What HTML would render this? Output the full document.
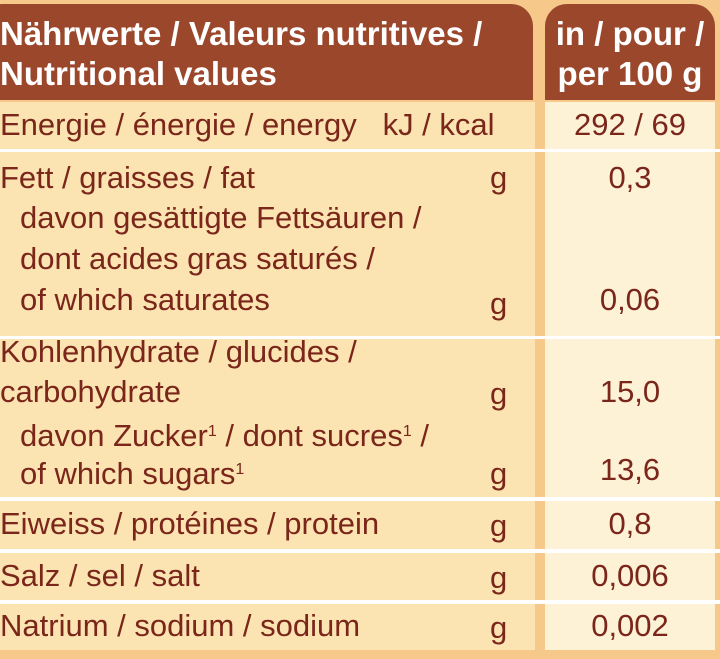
<!DOCTYPE html>
<html><head><meta charset="utf-8"><style>
body{margin:0;width:720px;height:659px;background:#f6c98a;position:relative;overflow:hidden;font-family:"Liberation Sans",sans-serif;}
.c{position:absolute;}
.l{background:#fbe3b2;}
.r{background:#fdf1d6;}
.hd{position:absolute;background:#9b472c;border-radius:22px 22px 0 0;color:#fff;font-weight:bold;font-size:33px;line-height:40px;white-space:nowrap;}
.t{position:absolute;color:#7a261a;font-size:31px;line-height:40px;white-space:nowrap;}
.v{position:absolute;color:#7a261a;font-size:31px;line-height:40px;width:170px;text-align:center;left:545px;}
.g{position:absolute;color:#7a261a;font-size:31px;line-height:40px;left:490px;}
sup{font-size:16px;vertical-align:10px;}
</style></head><body>
<div class="hd" style="left:-20px;top:4px;width:553px;height:96px;padding-left:20px;box-sizing:border-box;padding-top:10px;">Nährwerte / Valeurs nutritives /<br>Nutritional values</div>
<div class="hd" style="left:545px;top:4px;width:170px;height:96px;text-align:center;padding-top:10px;box-sizing:border-box;">in / pour /<br>per 100 g</div>

<div class="c l" style="left:0;top:102px;width:535px;height:47px"></div><div class="c r" style="left:545px;top:102px;width:170px;height:47px"></div>
<div class="c l" style="left:0;top:152px;width:535px;height:184px"></div><div class="c r" style="left:545px;top:152px;width:170px;height:184px"></div>
<div class="c l" style="left:0;top:339px;width:535px;height:158px"></div><div class="c r" style="left:545px;top:339px;width:170px;height:158px"></div>
<div class="c l" style="left:0;top:501px;width:535px;height:48px"></div><div class="c r" style="left:545px;top:501px;width:170px;height:48px"></div>
<div class="c l" style="left:0;top:553px;width:535px;height:47px"></div><div class="c r" style="left:545px;top:553px;width:170px;height:47px"></div>
<div class="c l" style="left:0;top:604px;width:535px;height:46px"></div><div class="c r" style="left:545px;top:604px;width:170px;height:46px"></div>
<div class="c" style="left:0;top:149px;width:720px;height:3px;background:#fff"></div>
<div class="c" style="left:0;top:336px;width:720px;height:3px;background:#fff"></div>
<div class="c" style="left:0;top:497px;width:720px;height:4px;background:#fff"></div>
<div class="c" style="left:0;top:549px;width:720px;height:4px;background:#fff"></div>
<div class="c" style="left:0;top:600px;width:720px;height:4px;background:#fff"></div>

<div class="t" style="left:0;top:105px">Energie / énergie / energy&nbsp;&nbsp; kJ / kcal</div>
<div class="v" style="top:105px">292 / 69</div>

<div class="t" style="left:0;top:158px">Fett / graisses / fat</div>
<div class="g" style="top:158px">g</div><div class="v" style="top:158px">0,3</div>
<div class="t" style="left:20px;top:198px">davon gesättigte Fettsäuren /</div>
<div class="t" style="left:20px;top:239px">dont acides gras saturés /</div>
<div class="t" style="left:20px;top:280px">of which saturates</div>
<div class="g" style="top:284px">g</div><div class="v" style="top:280px">0,06</div>

<div class="t" style="left:0;top:332px">Kohlenhydrate / glucides /</div>
<div class="t" style="left:0;top:372px">carbohydrate</div>
<div class="g" style="top:374px">g</div><div class="v" style="top:372px">15,0</div>
<div class="t" style="left:20px;top:412px">davon Zucker<sup>1</sup> / dont sucres<sup>1</sup> /</div>
<div class="t" style="left:20px;top:450px">of which sugars<sup>1</sup></div>
<div class="g" style="top:454px">g</div><div class="v" style="top:450px">13,6</div>

<div class="t" style="left:0;top:504px">Eiweiss / protéines / protein</div>
<div class="g" style="top:506px">g</div><div class="v" style="top:504px">0,8</div>
<div class="t" style="left:0;top:556px">Salz / sel / salt</div>
<div class="g" style="top:558px">g</div><div class="v" style="top:556px">0,006</div>
<div class="t" style="left:0;top:606px">Natrium / sodium / sodium</div>
<div class="g" style="top:608px">g</div><div class="v" style="top:606px">0,002</div>
</body></html>
